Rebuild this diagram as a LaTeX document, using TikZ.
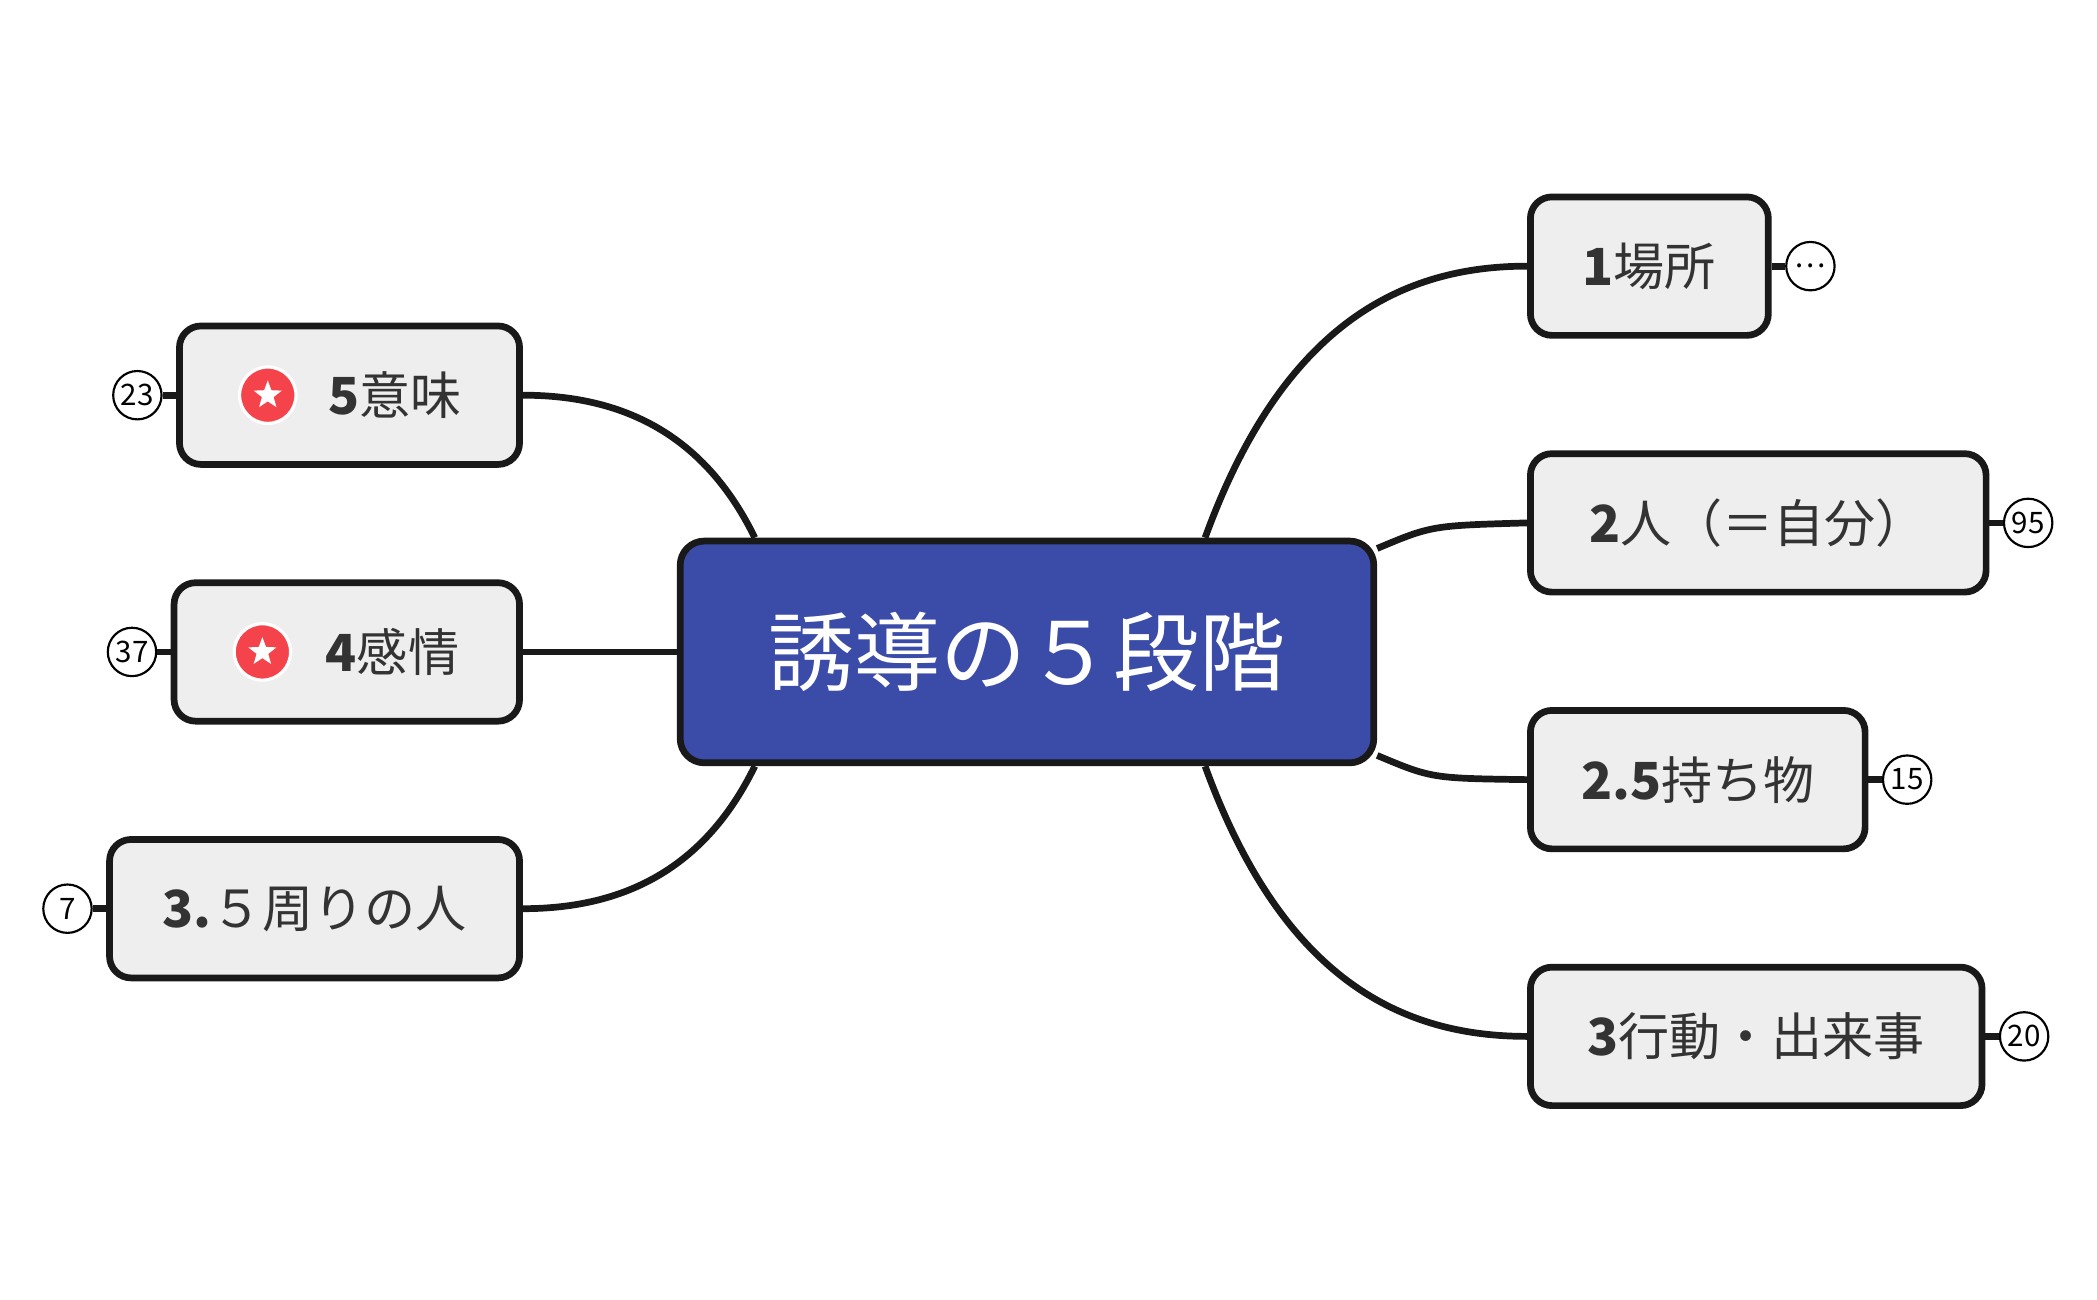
\documentclass[tikz,border=0pt]{standalone}
\usepackage{fontspec}
\setmainfont{Noto Sans CJK JP}
\usetikzlibrary{shapes.geometric,positioning}
\definecolor{hubblue}{HTML}{3B4BA8}
\definecolor{boxgray}{HTML}{EEEEEE}
\definecolor{txtgray}{HTML}{333333}
\definecolor{starred}{HTML}{F5434B}
\tikzset{hub/.style={rectangle,rounded corners=9pt,draw=black!90,line width=2.5pt,fill=hubblue,text=white,minimum width=258pt,minimum height=82.5pt,font=\fontsize{32}{36}\selectfont},
         topic/.style={rectangle,rounded corners=8pt,draw=black!90,line width=2.5pt,fill=boxgray,text=txtgray,minimum height=51.5pt,inner sep=0pt,font=\fontsize{19}{22}\selectfont},
         badge/.style={circle,draw=black,line width=0.8pt,fill=white,minimum size=18pt,inner sep=0pt,font=\fontsize{11}{11}\selectfont},
         star mark/.style={circle,fill=starred,draw=white,line width=1.2pt,minimum size=21pt,inner sep=0pt},
         star glyph/.style={star,star points=5,star point ratio=2.4,fill=white,minimum size=11pt,inner sep=0pt},
         branch/.style={draw=black!90,line width=2.5pt},
         stub/.style={draw=black!90,line width=2.5pt}
}
\begin{document}
\begin{tikzpicture}[x=0.5pt,y=0.5pt]
\useasboundingbox (0,-1) rectangle (1560,-968);
\node [hub] (c) at (764,-486) {誘導の５段階};
% right side
\node [topic,minimum width=88.5pt] (t1) at (1227,-199) {{\bfseries 1}場所};
\node [topic,minimum width=169.5pt] (t2) at (1308,-390) {{\bfseries 2}人（＝自分）};
\node [topic,minimum width=124.5pt] (t25) at (1263,-581) {{\bfseries 2.5}持ち物};
\node [topic,minimum width=168pt] (t3) at (1306.5,-772) {{\bfseries 3}行動・出来事};
% left side
\node [topic,minimum width=126.5pt] (t5) at (260,-295) {\hspace*{34pt}{\bfseries 5}意味};
\node [topic,minimum width=128.5pt] (t4) at (258,-486) {\hspace*{34pt}{\bfseries 4}感情};
\node [topic,minimum width=152.5pt] (t35) at (234,-677) {{\bfseries 3.}５周りの人};
\node [star mark,right=23pt of t5.west] (s5) {};
\node [star mark,right=23pt of t4.west] (s4) {};
\node [star glyph] (g5) at (s5) {};
\node [star glyph] (g4) at (s4) {};
% badges
\node [badge,right=5pt of t1.east] (b1) {…};
\node [badge,right=5pt of t2.east] (b2) {95};
\node [badge,right=5pt of t25.east] (b25) {15};
\node [badge,right=5pt of t3.east] (b3) {20};
\node [badge,left=5pt of t5.west] (b5) {23};
\node [badge,left=5pt of t4.west] (b4) {37};
\node [badge,left=5pt of t35.west] (b35) {7};
\foreach \t/\b in {t1/b1,t2/b2,t25/b25,t3/b3}
  \draw [stub] (\t.east) -- (\b.west);
\foreach \t/\b in {t5/b5,t4/b4,t35/b35}
  \draw [stub] (\t.west) -- (\b.east);
% branches
\draw [branch] ([xshift=-64pt]c.north east) .. controls (955,-240) and (1045,-199) .. (t1.west);
\draw [branch] ([yshift=-4pt]c.north east) .. controls (1065,-392) .. (t2.west);
\draw [branch] ([yshift=4pt]c.south east) .. controls (1065,-580) .. (t25.west);
\draw [branch] ([xshift=-64pt]c.south east) .. controls (955,-732) and (1045,-772) .. (t3.west);
\draw [branch] ([xshift=29pt]c.north west) .. controls (522,-320) and (458,-295) .. (t5.east);
\draw [branch] (c.west) -- (t4.east);
\draw [branch] ([xshift=29pt]c.south west) .. controls (522,-652) and (458,-677) .. (t35.east);
\end{tikzpicture}
\end{document}
